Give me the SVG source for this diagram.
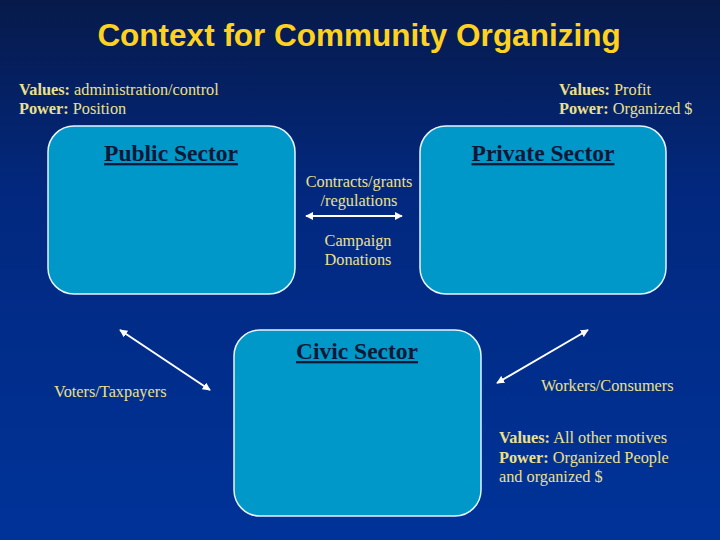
<svg xmlns="http://www.w3.org/2000/svg" width="720" height="540" viewBox="0 0 720 540">
<defs>
<linearGradient id="bg" x1="0" y1="0" x2="0" y2="1">
<stop offset="0" stop-color="#071a4a"/>
<stop offset="0.35" stop-color="#02287e"/>
<stop offset="1" stop-color="#003399"/>
</linearGradient>
<marker id="ah" viewBox="0 0 10 10" refX="9" refY="5" markerWidth="4" markerHeight="4" orient="auto-start-reverse">
<path d="M0,0 L10,5 L0,10 z" fill="#ffffff"/>
</marker>
<style>
.box{fill:#0097c9;stroke:#e8f4ff;stroke-width:1.5}
.sec{font-family:"Liberation Serif",serif;font-size:23.5px;font-weight:bold;fill:#0a1838;text-decoration:underline;text-anchor:middle}
.lbl{font-family:"Liberation Serif",serif;font-size:16.3px;fill:#ece08c}
.b{font-weight:bold}
.c{text-anchor:middle}
.conn{stroke:#ffffff;stroke-width:2;fill:none;marker-start:url(#ah);marker-end:url(#ah)}
</style>
</defs>
<rect width="720" height="540" fill="url(#bg)"/>
<text x="359" y="46" font-family="Liberation Sans,Arial,sans-serif" font-size="31.5" font-weight="bold" fill="#ffd21f" text-anchor="middle">Context for Community Organizing</text>

<g id="public-values">
<text class="lbl" x="19" y="95"><tspan class="b">Values:</tspan> administration/control</text>
<text class="lbl" x="19" y="114"><tspan class="b">Power:</tspan> Position</text>
</g>
<g id="private-values">
<text class="lbl" x="559" y="95"><tspan class="b">Values:</tspan> Profit</text>
<text class="lbl" x="559" y="114"><tspan class="b">Power:</tspan> Organized $</text>
</g>

<g id="public-sector">
<rect class="box" x="48" y="126" width="247" height="168" rx="26"/>
<text class="sec" x="171" y="161">Public Sector</text>
</g>
<g id="private-sector">
<rect class="box" x="420" y="126" width="246" height="168" rx="26"/>
<text class="sec" x="543" y="161">Private Sector</text>
</g>
<g id="civic-sector">
<rect class="box" x="234" y="330" width="247" height="186" rx="26"/>
<text class="sec" x="357" y="359">Civic Sector</text>
</g>

<g id="connectors">
<line class="conn" x1="306" y1="216" x2="402" y2="216"/>
<line class="conn" x1="120" y1="330" x2="210" y2="390"/>
<line class="conn" x1="588" y1="330" x2="497" y2="383"/>
</g>

<g id="connector-labels">
<text class="lbl c" x="359" y="187">Contracts/grants</text>
<text class="lbl c" x="359" y="206">/regulations</text>
<text class="lbl c" x="358" y="246">Campaign</text>
<text class="lbl c" x="358" y="265">Donations</text>
<text class="lbl" x="54" y="397">Voters/Taxpayers</text>
<text class="lbl" x="541" y="391">Workers/Consumers</text>
</g>

<g id="civic-values">
<text class="lbl" x="499" y="443"><tspan class="b">Values:</tspan> All other motives</text>
<text class="lbl" x="499" y="463"><tspan class="b">Power:</tspan> Organized People</text>
<text class="lbl" x="499" y="482">and organized $</text>
</g>
</svg>
